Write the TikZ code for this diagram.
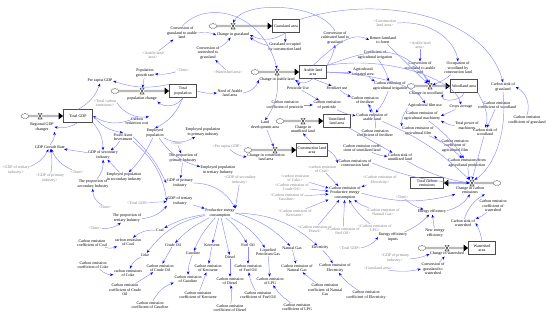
\documentclass[tikz,border=0pt]{standalone}
\usepackage{fontspec}
\setmainfont{Liberation Serif}
\usetikzlibrary{arrows.meta,shapes.symbols}

\begin{document}
\begin{tikzpicture}[x=1pt,y=-1pt,
  var/.style={font=\fontsize{4}{4.4}\selectfont,align=center,inner sep=0.5pt},
  ghost/.style={var,text=gray},
  stock/.style={var,draw=black!70,line width=0.7pt,fill=white,minimum width=27pt,minimum height=12.5pt},
  source/.style={cloud,cloud puffs=9,draw=black!60,fill=white,line width=0.35pt,minimum width=8pt,minimum height=5.5pt,inner sep=0pt},
  valve/.style={inner sep=0pt,minimum width=4.5pt,minimum height=6pt,fill=white,
    path picture={\draw[line width=0.6pt,black!70] (path picture bounding box.north west) -- (path picture bounding box.north east) -- (path picture bounding box.south west) -- (path picture bounding box.south east) -- cycle;}},
  pipe/.style={draw=gray!55,line width=2.2pt,-{Triangle[length=4.5pt,width=6.5pt,color=black]}},
  lnk/.style={draw=blue!45,line width=0.45pt,-{Stealth[length=3.4pt,width=2.6pt,color=blue]}}]
  \useasboundingbox (0,0) rectangle (550,317);

  % stocks and sources
  \node[stock] (grassland) at (286,26) {Grassland area};
  \node[stock] (arable) at (313,72) {Arable land\\area};
  \node[stock] (totpop) at (183,91) {Total\\population};
  \node[stock,minimum width=29pt] (totgdp) at (78,116) {Total GDP};
  \node[stock] (woodland) at (464,86) {Woodland area};
  \node[stock] (unut) at (337,121) {Unutilized\\land area};
  \node[stock,minimum width=31pt] (constr) at (312,150) {Construction land\\area};
  \node[stock,minimum width=33pt,minimum height=11pt] (totce) at (427,183) {Total carbon\\emissions};
  \node[stock] (watershed) at (482,248) {Watershed\\area};

  \node[source] (sgrass) at (213,26) {};
  \node[source] (sarable) at (255,72) {};
  \node[source] (spop) at (115,91) {};
  \node[source] (sgdp) at (25,116) {};
  \node[source] (swood) at (411,86) {};
  \node[source] (sun) at (280,121) {};
  \node[source] (scon) at (248,150) {};
  \node[source] (sce) at (497,183) {};
  \node[source] (sws) at (422,248) {};

  \draw[pipe] (sgrass) -- (grassland);
  \draw[pipe] (sarable) -- (arable);
  \draw[pipe] (spop) -- (totpop);
  \draw[pipe] (sgdp) -- (totgdp);
  \draw[pipe] (swood) -- (woodland);
  \draw[pipe] (sun) -- (unut);
  \draw[pipe] (scon) -- (constr);
  \draw[pipe] (sce) -- (totce);
  \draw[pipe] (sws) -- (watershed);

  \node[valve] (vgrass) at (233,26) {};
  \node[valve] (varable) at (277,72) {};
  \node[valve] (vpop) at (142,91) {};
  \node[valve] (vgdp) at (40,116) {};
  \node[valve] (vwood) at (430,86) {};
  \node[valve] (vun) at (303,121) {};
  \node[valve] (vcon) at (275,150) {};
  \node[valve] (vce) at (472,183) {};
  \node[valve] (vws) at (447,248) {};

  % flow names
  \node[var] (chgrass) at (233,35) {Change in grassland};
  \node[var] (charable) at (277,80) {Change in arable land};
  \node[var] (popch) at (142,99) {population change};
  \node[var] (rgdp) at (42,127) {Regional GDP\\changes};
  \node[var] (chwood) at (426,94) {Change in woodland};
  \node[var] (chun) at (303,129) {Change in\\unutilized land};
  \node[var] (chcon) at (266,157) {Change in construction\\land area};
  \node[var] (chce) at (470,190) {Change in carbon\\emissions};
  \node[var] (chws) at (447,254) {Change in watershed};

  % land use
  \node[var] (pcgdp) at (100,81) {Per capita GDP};
  \node[var] (pgr) at (145,73) {Population\\growth rate};
  \node[var] (need) at (230,93) {Need of Arable\\land area};
  \node[var] (cga) at (182,33) {Conversion of\\grassland to arable\\land};
  \node[var] (cwg) at (208,53) {Conversion of\\watershed to\\grassland};
  \node[var] (ccg) at (335,38) {Conversion of\\cultivated land to\\grassland};
  \node[var] (goc) at (285,47) {Grassland occupied\\by construction land};
  \node[var] (rff) at (383,40) {Return farmland\\to forest};
  \node[var] (cai) at (375,55) {Coefficient of\\agricultural irrigation};
  \node[var] (airr) at (363,72) {Agricultural\\irrigated area};
  \node[var] (ceai) at (390,86) {Carbon emission of\\agricultural irrigation};
  \node[var] (pest) at (298,88) {Pesticide Use};
  \node[var] (fert) at (337,88) {Fertilizer use};
  \node[var] (cefert) at (365,100) {Carbon emission\\of fertilizer};
  \node[var] (cecp) at (285,105) {Carbon emission\\coefficient of pesticide};
  \node[var] (cepest) at (327,105) {Carbon emission\\of pesticide};
  \node[var] (cwa) at (420,68) {Conversion of\\woodland to arable\\land};
  \node[var] (owc) at (458,68) {Occupation of\\woodland by\\construction land};
  \node[var] (csg) at (503,87) {Carbon sink of\\grassland};
  \node[var] (afu) at (425,106) {Agricultural film use};
  \node[var] (crops) at (461,107) {Crops acreage};
  \node[var] (cecw) at (497,105) {Carbon emission\\coefficient of woodland};
  \node[var] (ceam) at (422,116) {Carbon emission of\\agricultural machinery};
  \node[var] (tpm) at (467,126) {Total power of\\machinery};
  \node[var] (ceaf) at (418,131) {Carbon emission of\\agricultural film};
  \node[var] (cecaf) at (455,146) {Carbon emission\\coefficient of\\agricultural film};
  \node[var] (csw) at (485,132) {Carbon sink of\\woodland};
  \node[var] (cecg) at (527,120) {Carbon emission\\coefficient of grassland};
  \node[var] (csu) at (400,157) {Carbon sink of\\unutilized land};
  \node[var] (ceap) at (467,163) {Carbon emissions from\\agricultural production};
  \node[var] (landdev) at (265,125) {Land\\development area};
  \node[var] (cearable) at (372,117) {Carbon emission of\\arable land};
  \node[var] (cecf) at (375,133) {Carbon emission\\coefficient of fertilizer};
  \node[var] (cecu) at (362,148) {Carbon emission coeffi\\cient of unutilized land};
  \node[var] (cecl) at (355,163) {Carbon emissions of\\construction land};
  \node[var] (pecp) at (345,193) {Carbon emission of\\Productive energy\\consumption};

  % economy and population
  \node[var] (crc) at (137,121) {Carbon\\reduction cost};
  \node[var] (fai) at (123,137) {Fixed Asset\\Investment};
  \node[var] (gdpgr) at (50,147) {GDP Growth Rate};
  \node[var] (gdp2) at (103,155) {GDP of secondary\\industry};
  \node[var] (ep) at (155,133) {Employed\\population};
  \node[var] (ep1) at (203,132) {Employed population\\in primary industry};
  \node[var] (ep2) at (124,177) {Employed population\\in secondary industry};
  \node[var] (pp1) at (183,158) {The proportion of\\primary Industry};
  \node[var] (ep3) at (218,170) {Employed population\\in tertiary Industry};
  \node[var] (gdp1) at (180,183) {GDP of primary\\industry};
  \node[var] (gdp3) at (180,201) {GDP of tertiary\\industry};
  \node[var] (ps2) at (93,184) {The proportion of\\secondary Industry};
  \node[var] (pt3) at (127,218) {The proportion of\\tertiary Industry};
  \node[var] (pec) at (220,213) {Productive energy\\consumption};

  % energy sources
  \node[var] (coal) at (160,230) {Coal};
  \node[var] (crude) at (173,245) {Crude Oil};
  \node[var] (kero) at (212,245) {Kerosene};
  \node[var] (fuel) at (248,245) {Fuel Oil};
  \node[var] (lpg) at (268,252) {Liquefied\\Petroleum Gas};
  \node[var] (coke) at (145,255) {Coke};
  \node[var] (gasoline) at (193,253) {Gasoline};
  \node[var] (diesel) at (230,257) {Diesel};
  \node[var] (ngas) at (292,248) {Natural Gas};
  \node[var] (elec) at (320,248) {Electricity};

  \node[var] (cecoal) at (128,242) {carbon emission\\of Coal};
  \node[var] (cecoke) at (128,273) {carbon emissions\\of Coke};
  \node[var] (cecrude) at (160,268) {Carbon emission\\of Crude Oil};
  \node[var] (cekero) at (208,268) {Carbon emission\\of Kerosene};
  \node[var] (cefuel) at (248,268) {Carbon emission\\of Fuel Oil};
  \node[var] (cegas) at (188,279) {Carbon emission\\of Gasoline};
  \node[var] (cedies) at (230,281) {Carbon emission\\of Diesel};
  \node[var] (celpg) at (270,281) {Carbon emission\\of LPG};
  \node[var] (cengas) at (297,268) {Carbon emission of\\Natural Gas};
  \node[var] (ceelec) at (335,268) {Carbon emission of\\Electricity};

  \node[var] (kcoal) at (92,243) {Carbon emission\\coefficient of Coal};
  \node[var] (kcoke) at (93,265) {Carbon emission\\coefficient of Coke};
  \node[var] (kcrude) at (125,290) {Carbon emission\\coefficient of Crude\\Oil};
  \node[var] (kgas) at (150,305) {Carbon emission\\coefficient of Gasoline};
  \node[var] (kkero) at (198,295) {Carbon emission\\coefficient of Kerosene};
  \node[var] (kdies) at (230,308) {Carbon emission\\coefficient of Diesel};
  \node[var] (kfuel) at (258,295) {Carbon emission\\coefficient of Fuel Oil};
  \node[var] (klpg) at (297,307) {Carbon emission\\coefficient of LPG};
  \node[var] (kngas) at (325,290) {Carbon emission\\coefficient of Natural\\Gas};
  \node[var] (kelec) at (366,295) {Carbon emission\\coefficient of Electricity};

  % energy efficiency and watershed
  \node[var] (enef) at (432,212) {Energy efficiency};
  \node[var] (enefin) at (393,237) {Energy efficiency\\inputs};
  \node[var] (newef) at (435,233) {New energy\\efficiency};
  \node[var] (csws) at (463,223) {Carbon sink of\\watershed};
  \node[var] (cecws) at (493,206) {Carbon emission\\coefficient of\\watershed};
  \node[var] (cgw) at (433,269) {Conversion of\\grassland to\\watershed};

  % shadow variables
  \node[ghost] (g_tce) at (105,103) {<Total carbon\\emissions>};
  \node[ghost] (g_arable1) at (153,55) {<Arable land\\area>};
  \node[ghost] (g_time1) at (183,70) {<Time>};
  \node[ghost] (g_ws) at (228,72) {<Watershed area>};
  \node[ghost] (g_constr) at (385,23) {<Construction\\land area>};
  \node[ghost] (g_arable2) at (420,45) {<Arable land\\area>};
  \node[ghost] (g_gdp3) at (16,170) {<GDP of tertiary\\industry>};
  \node[ghost] (g_gdp1a) at (50,178) {<GDP of primary\\industry>};
  \node[ghost] (g_time2) at (77,172) {<Time>};
  \node[ghost] (g_time3) at (105,207) {<Time>};
  \node[ghost] (g_tgdp1) at (138,203) {<Total GDP>};
  \node[ghost] (g_time4) at (177,143) {<Time>};
  \node[ghost] (g_pcgdp) at (227,147) {<Per capita GDP>};
  \node[ghost] (g_gdp2) at (240,180) {<GDP of secondary\\industry>};
  \node[ghost] (g_time5) at (95,228) {<Time>};
  \node[ghost] (g_coal) at (322,169) {<carbon emission\\of Coal>};
  \node[ghost] (g_coke) at (295,178) {<carbon emission\\of Coke>};
  \node[ghost] (g_crude) at (292,187) {<Carbon emission of\\Crude Oil>};
  \node[ghost] (g_gasol) at (287,197) {<Carbon emission of\\Gasoline>};
  \node[ghost] (g_elec) at (380,180) {<Carbon emission of\\Electricity>};
  \node[ghost] (g_time6) at (402,197) {<Time>};
  \node[ghost] (g_kero) at (295,213) {<Carbon emission of\\Kerosene>};
  \node[ghost] (g_ngas) at (383,212) {<Carbon emission of\\Natural Gas>};
  \node[ghost] (g_dies) at (315,229) {<Carbon emission of\\Diesel>};
  \node[ghost] (g_fuel) at (343,231) {<Carbon emission of\\Fuel Oil>};
  \node[ghost] (g_lpg) at (375,228) {<Carbon emission of\\LPG>};
  \node[ghost] (g_tgdp2) at (350,248) {<Total GDP>};
  \node[ghost] (g_gdp1b) at (395,258) {<GDP of primary\\industry>};
  \node[ghost] (g_grass) at (378,268) {<Grassland area>};

  % links: population and grassland
  \draw[lnk] (totpop.north west) to[bend left=15] (pcgdp.east);
  \draw[lnk] (totgdp.north) to[bend right=20] (pcgdp.south);
  \draw[lnk] (pgr) -- (vpop);
  \draw[lnk] (totpop.south) to[bend left=50] (popch.south east);
  \draw[lnk] (g_time1) to[bend left=10] (pgr);
  \draw[lnk] (totpop.east) to[bend right=10] (need.west);
  \draw[lnk] (need.east) to[bend right=30] (charable.west);
  \draw[lnk] (g_arable1) -- (cga);
  \draw[lnk] (cga.east) to[bend left=15] (chgrass.west);
  \draw[lnk] (cwg) to[bend right=10] (chgrass);
  \draw[lnk] (g_ws) -- (cwg);
  \draw[lnk] (grassland.south) to[bend left=30] (chgrass.east);
  \draw[lnk] (goc) to[bend left=10] (chgrass.south east);
  \draw[lnk] (ccg.north) .. controls (320,3) and (245,0) .. (vgrass.north);
  \draw[lnk] (cga.north) .. controls (205,0) and (262,10) .. (varable.north);
  \draw[lnk] (grassland) -- (goc);
  \draw[lnk] (arable.north east) to[bend right=10] (ccg.south);
  \draw[lnk] (arable.south) to[bend left=40] (charable.east);
  \draw[lnk] (grassland.north east) .. controls (380,-6) and (485,15) .. (csg.north);

  % links: arable land and woodland
  \draw[lnk] (arable.east) to[bend right=5] (airr.west);
  \draw[lnk] (airr) to[bend right=10] (ceai);
  \draw[lnk] (cai) to[bend left=10] (ceai);
  \draw[lnk] (arable.south west) -- (pest);
  \draw[lnk] (arable.south) -- (fert);
  \draw[lnk] (pest) -- (cepest);
  \draw[lnk] (cecp) -- (cepest);
  \draw[lnk] (fert) to[bend right=10] (cefert);
  \draw[lnk] (cecf) to[bend right=20] (cefert);
  \draw[lnk] (cepest) to[bend right=10] (cearable);
  \draw[lnk] (cefert) to[bend left=10] (cearable);
  \draw[lnk] (ceai) to[bend left=10] (cearable);
  \draw[lnk] (arable.north) .. controls (330,50) and (350,30) .. (rff.west);
  \draw[lnk] (rff) -- (vwood);
  \draw[lnk] (g_arable2) -- (cwa);
  \draw[lnk] (cwa) -- (vwood);
  \draw[lnk] (owc) to[bend left=10] (vwood);
  \draw[lnk] (g_constr.east) .. controls (430,20) and (455,40) .. (owc.north);
  \draw[lnk] (woodland.south) .. controls (462,102) and (440,102) .. (chwood.east);
  \draw[lnk] (arable.north east) .. controls (370,50) and (400,40) .. (vwood.north);
  \draw[lnk] (arable.east) .. controls (380,75) and (415,85) .. (afu.north);
  \draw[lnk] (arable.north east) .. controls (390,55) and (455,80) .. (crops.north);
  \draw[lnk] (woodland.south east) .. controls (482,100) and (490,115) .. (csw.north);
  \draw[lnk] (cecw) -- (csw);
  \draw[lnk] (cecg.north) to[bend right=40] (csg.east);
  \draw[lnk] (crops) -- (ceam.east);
  \draw[lnk] (tpm) to[bend left=10] (ceam.south east);
  \draw[lnk] (afu.south west) to[bend right=20] (ceaf.north west);
  \draw[lnk] (cecaf) to[bend left=10] (ceaf.south east);
  \draw[lnk] (ceam) to[bend left=10] (ceap);
  \draw[lnk] (ceaf) to[bend left=10] (ceap);

  % links: carbon emissions
  \draw[lnk] (csg.south) .. controls (508,140) and (490,170) .. (vce.north east);
  \draw[lnk] (csw) -- (vce.north);
  \draw[lnk] (ceap) -- (vce.north west);
  \draw[lnk] (csu) to[bend right=10] (vce.west);
  \draw[lnk] (cearable) to[bend left=10] (vce.north west);
  \draw[lnk] (cecl.east) to[bend right=10] (vce.west);
  \draw[lnk] (pecp.east) to[bend right=15] (chce.south west);
  \draw[lnk] (unut) -- (csu);
  \draw[lnk] (cecu) to[bend right=10] (csu);
  \draw[lnk] (constr.east) to[bend left=20] (cecl.west);
  \draw[lnk] (constr.north) -- (chun.south);
  \draw[lnk] (g_pcgdp) to[bend right=15] (chcon.west);
  \draw[lnk] (landdev) -- (vcon);
  \draw[lnk] (varable) to[bend left=20] (landdev.north);
  \draw[lnk] (g_time6) to[bend right=10] (enef);
  \draw[lnk] (enefin) to[bend right=10] (enef);
  \draw[lnk] (newef) -- (enef);
  \draw[lnk] (enef) to[bend right=20] (chce.south);
  \draw[lnk] (csws) to[bend left=20] (chce.south east);
  \draw[lnk] (g_tgdp2) to[bend right=20] (enefin.west);
  \draw[lnk] (g_gdp1b) to[bend right=10] (chws.west);
  \draw[lnk] (cgw) -- (chws);
  \draw[lnk] (g_grass) to[bend right=10] (cgw.west);
  \draw[lnk] (watershed.north) to[bend right=10] (csws.east);
  \draw[lnk] (cecws) to[bend left=10] (csws.north east);

  % links: economy
  \draw[lnk] (totgdp.south) to[bend left=20] (rgdp.east);
  \draw[lnk] (gdpgr.north) to[bend right=20] (rgdp.south east);
  \draw[lnk] (crc.north) to[bend left=30] (totgdp.east);
  \draw[lnk] (g_tce.east) to[bend right=30] (crc.north east);
  \draw[lnk] (totgdp.east) to[bend right=20] (fai.north);
  \draw[lnk] (totgdp.south east) to[bend left=20] (gdp2.north);
  \draw[lnk] (gdp2) -- (gdpgr);
  \draw[lnk] (g_gdp3) to[bend right=20] (gdpgr);
  \draw[lnk] (g_gdp1a) to[bend right=10] (gdpgr);
  \draw[lnk] (g_time2) to[bend left=20] (gdpgr);
  \draw[lnk] (fai) to[bend left=10] (gdp2);
  \draw[lnk] (ps2) to[bend right=20] (gdp2);
  \draw[lnk] (ep2) -- (gdp2);
  \draw[lnk] (g_time3) to[bend left=30] (ps2);
  \draw[lnk] (totpop.south) to[bend left=20] (ep.north);
  \draw[lnk] (ep) to[bend right=30] (ep1);
  \draw[lnk] (ep) to[bend left=10] (ep2);
  \draw[lnk] (ep) to[bend right=20] (ep3);
  \draw[lnk] (g_time4) -- (pp1);
  \draw[lnk] (pp1) -- (gdp1);
  \draw[lnk] (fai.east) to[bend left=10] (gdp1.west);
  \draw[lnk] (fai.south east) to[bend left=20] (gdp3.west);
  \draw[lnk] (g_tgdp1) -- (gdp3);
  \draw[lnk] (pt3) to[bend right=20] (gdp3.south west);
  \draw[lnk] (g_time5) to[bend right=20] (pt3);
  \draw[lnk] (gdp1.east) to[bend left=30] (pec.north east);
  \draw[lnk] (gdp3) -- (pec);
  \draw[lnk] (g_gdp2) -- (pec.north east);

  % links: energy
  \draw[lnk] (pec) to[bend right=10] (coal);
  \draw[lnk] (pec) to[bend right=20] (coke);
  \draw[lnk] (pec) to[bend right=10] (crude);
  \draw[lnk] (pec) to[bend right=10] (gasoline);
  \draw[lnk] (pec) -- (kero);
  \draw[lnk] (pec) -- (diesel);
  \draw[lnk] (pec) to[bend left=10] (fuel);
  \draw[lnk] (pec) to[bend left=15] (lpg);
  \draw[lnk] (pec.east) to[bend left=15] (ngas);
  \draw[lnk] (pec.east) to[bend left=20] (elec);
  \draw[lnk] (coal) to[bend right=20] (cecoal);
  \draw[lnk] (coke) to[bend right=20] (cecoke);
  \draw[lnk] (crude) -- (cecrude);
  \draw[lnk] (gasoline) to[bend right=10] (cegas);
  \draw[lnk] (kero) -- (cekero);
  \draw[lnk] (diesel) -- (cedies);
  \draw[lnk] (fuel) -- (cefuel);
  \draw[lnk] (lpg) -- (celpg);
  \draw[lnk] (ngas) -- (cengas);
  \draw[lnk] (elec) to[bend left=10] (ceelec);
  \draw[lnk] (kcoal) to[bend right=20] (cecoal);
  \draw[lnk] (kcoke) to[bend right=20] (cecoke);
  \draw[lnk] (kcrude) -- (cecrude);
  \draw[lnk] (kgas) to[bend left=20] (cegas);
  \draw[lnk] (kkero) -- (cekero);
  \draw[lnk] (kdies) to[bend right=10] (cedies);
  \draw[lnk] (kfuel) to[bend left=10] (cefuel);
  \draw[lnk] (klpg) to[bend left=10] (celpg);
  \draw[lnk] (kngas) -- (cengas);
  \draw[lnk] (kelec) to[bend left=10] (ceelec);
  \draw[lnk] (g_coal) -- (pecp);
  \draw[lnk] (g_coke) -- (pecp);
  \draw[lnk] (g_crude) -- (pecp);
  \draw[lnk] (g_gasol) -- (pecp);
  \draw[lnk] (g_elec) -- (pecp);
  \draw[lnk] (g_kero) -- (pecp);
  \draw[lnk] (g_ngas) to[bend left=10] (pecp);
  \draw[lnk] (g_dies) -- (pecp);
  \draw[lnk] (g_fuel) -- (pecp);
  \draw[lnk] (g_lpg) to[bend left=10] (pecp);
\end{tikzpicture}
\end{document}
